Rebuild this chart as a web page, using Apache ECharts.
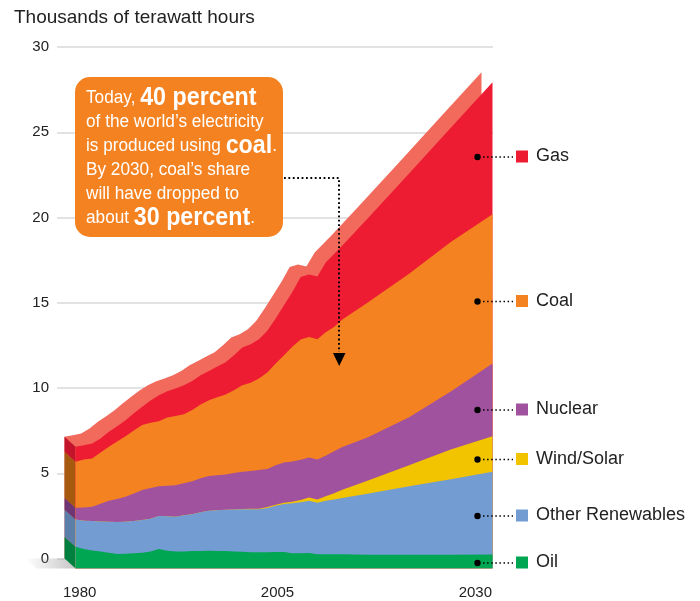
<!DOCTYPE html>
<html><head><meta charset="utf-8">
<script src="https://cdn.jsdelivr.net/npm/echarts@6/dist/echarts.min.js"></script>
<style>html,body{margin:0;padding:0;background:#fff}#c{width:700px;height:601px}</style>
</head><body><div id="c"></div>
<script>
// ---- data (thousands of TWh) ----
const years = [1980,1981,1982,1983,1984,1985,1986,1987,1988,1989,1990,1991,1992,1993,1994,1995,1996,1997,1998,1999,2000,2001,2002,2003,2004,2005,2006,2007,2008,2009,2010,2011,2012,2015,2020,2025,2030];
const oil = [1.28,1.15,1.06,1.00,0.93,0.85,0.86,0.89,0.93,0.99,1.14,1.04,0.99,0.99,1.02,1.02,1.04,1.03,1.02,1.00,0.98,0.96,0.95,0.96,0.97,0.97,0.90,0.90,0.91,0.84,0.83,0.83,0.83,0.81,0.81,0.81,0.82];
const otherRenewables = [1.60,1.65,1.72,1.76,1.81,1.87,1.88,1.89,1.91,1.93,1.94,2.02,2.05,2.13,2.16,2.28,2.35,2.39,2.43,2.46,2.49,2.51,2.52,2.59,2.71,2.81,2.92,2.98,3.06,3.02,3.14,3.22,3.31,3.58,4.01,4.43,4.85];
const windSolar = [0,0,0,0,0,0,0,0,0,0,0,0,0,0,0,0,0,0,0,0,0.02,0.03,0.04,0.06,0.06,0.08,0.10,0.14,0.20,0.19,0.27,0.37,0.48,0.76,1.24,1.74,2.09];
const nuclear = [0.68,0.78,0.84,1.04,1.23,1.36,1.47,1.62,1.76,1.80,1.75,1.80,1.85,1.88,1.94,2.00,2.03,2.05,2.07,2.14,2.18,2.22,2.26,2.22,2.32,2.36,2.36,2.36,2.34,2.35,2.38,2.45,2.50,2.54,2.81,3.40,4.26];
const coal = [2.70,2.82,2.83,3.00,3.17,3.37,3.55,3.70,3.81,3.83,3.81,4.00,4.06,4.05,4.18,4.32,4.45,4.58,4.68,4.85,5.08,5.17,5.38,5.67,5.96,6.29,6.72,7.05,7.07,7.05,7.23,7.30,7.48,7.90,8.42,8.77,8.75];
const gas = [0.88,0.83,0.88,0.83,0.88,0.90,0.94,1.00,1.07,1.30,1.52,1.54,1.60,1.70,1.70,1.72,1.72,1.80,1.90,2.06,2.21,2.26,2.30,2.45,2.64,2.93,3.22,3.67,3.67,3.67,4.10,4.28,4.35,4.93,5.88,6.70,7.75];
const seriesNames = ['Oil','Other Renewables','Wind/Solar','Nuclear','Coal','Gas'];
const xTickLabels = [1980, 2005, 2030];
const yTickLabels = [0, 5, 10, 15, 20, 25, 30];
const titleText = 'Thousands of terawatt hours';

// ---- styling ----
const layers = [oil, otherRenewables, windSolar, nuclear, coal, gas];
const frontColors = ['#00A651','#739CD2','#F2C400','#A0529F','#F48221','#ED1C33'];
const sideColors = ['#00803F','#5B7FA8','#C29C00','#6E3672','#A65A10','#C4142C'];
const topColor = '#F26A5C';
const DX = 11, DY = 10;
const FONT = '"Liberation Sans", Arial, Helvetica, sans-serif';

// cumulative tops (stack computed from the arrays)
const cumulative = [];
layers.forEach((arr, k) => {
  cumulative.push(arr.map((v, i) => v + (k ? cumulative[k - 1][i] : 0)));
});
const total = cumulative[cumulative.length - 1];

// side face items: [year, lower, upper, layerIndex]
const sideData = [[years[0], 0, 0, -1]];
layers.forEach((arr, k) => { sideData.push([years[0], k ? cumulative[k - 1][0] : 0, cumulative[k][0], k]); });

const chart = echarts.init(document.getElementById('c'), null, {renderer: 'canvas'});

const legendRows = [['Gas',157],['Coal',301.5],['Nuclear',410],['Wind/Solar',459.5],['Other Renewables',516],['Oil',563]];

const graphics = [];
legendRows.forEach(([n, y]) => {
  graphics.push({type:'circle', shape:{cx:477.5, cy:y, r:3.2}, style:{fill:'#000'}, z:100});
  graphics.push({type:'line', shape:{x1:483, y1:y, x2:513, y2:y}, style:{stroke:'#000', lineWidth:1.5, lineDash:[1.5,2.6]}, z:100});
});
graphics.push({type:'rect', shape:{x:75, y:77, width:208, height:160, r:15}, style:{fill:'#F48221'}, z:100});
graphics.push({type:'text', x:86, y:86, scaleX:0.93, z:101, style:{
  text:'{n|Today, }{b|40 percent}\n{n|of the world\u2019s electricity}\n{n|is produced using }{b|coal}{n|.}\n{n|By 2030, coal\u2019s share}\n{n|will have dropped to}\n{n|about }{b|30 percent}{n|.}',
  verticalAlign:'top', align:'left', fill:'#ffffff',
  rich:{
    n:{fontFamily:FONT, fontSize:18.5, fill:'#ffffff', lineHeight:24},
    b:{fontFamily:FONT, fontSize:25, fontWeight:'bold', fill:'#ffffff', lineHeight:24}
  }
}});
graphics.push({type:'polyline', shape:{points:[[284,178],[339,178],[339,352]]}, style:{stroke:'#000', lineWidth:2, lineDash:[1.8,2.6], fill:null}, z:100});
graphics.push({type:'polygon', shape:{points:[[333,353],[345.5,353],[339.2,366]]}, style:{fill:'#000'}, z:100});

// draw top layer first so lower layers paint over it
const frontSeries = layers.map((arr, k) => ({
  name: seriesNames[k], type:'line', xAxisIndex:2, yAxisIndex:2,
  data: years.map((y, i) => [y, cumulative[k][i]]),
  symbol:'none', showSymbol:false, lineStyle:{width:0}, color: frontColors[k],
  itemStyle:{color: frontColors[k]},
  areaStyle:{color: frontColors[k], opacity:1, origin:'start'}, silent:true, z:3
})).reverse();

chart.setOption({
  animation:false,
  title:{text:titleText, left:14, top:8, textStyle:{fontFamily:FONT, fontSize:19, fontWeight:'normal', color:'#222'}, padding:0},
  grid:[
    {left:57, right:207, top:47, bottom:42.5},
    {left:64.5, right:218.5, top:47, bottom:42.5},
    {left:75.5, right:207.5, top:57, bottom:32.5},
    {left:63, right:208, top:47, bottom:32}
  ],
  xAxis:[
    {gridIndex:0, type:'value', min:0, max:1, show:false},
    {gridIndex:1, type:'value', min:1980, max:2030, show:false},
    {gridIndex:2, type:'value', min:1980, max:2030, show:false},
    {gridIndex:3, type:'value', min:1980, max:2030, interval:25,
     axisLine:{show:false}, axisTick:{show:false}, splitLine:{show:false},
     axisLabel:{fontFamily:FONT, fontSize:15, color:'#222', margin:16, showMinLabel:true, showMaxLabel:true,
       alignMinLabel:'left', alignMaxLabel:'right',
       formatter: v => xTickLabels.indexOf(v) >= 0 ? String(v) : ''}}
  ],
  yAxis:[
    {gridIndex:0, type:'value', min:0, max:30, interval:5,
     axisLine:{show:false}, axisTick:{show:false},
     axisLabel:{fontFamily:FONT, fontSize:15, color:'#222', margin:8,
       formatter: v => yTickLabels.indexOf(v) >= 0 ? String(v) : ''},
     splitLine:{lineStyle:{color:'#d9d9d9', width:1.5}}},
    {gridIndex:1, type:'value', min:0, max:30, show:false},
    {gridIndex:2, type:'value', min:0, max:30, show:false},
    {gridIndex:3, type:'value', min:0, max:30, show:false}
  ],
  legend: legendRows.map(([n, y]) => ({
    data:[n], left:516, top:y-9.5, orient:'vertical', icon:'rect', itemWidth:12, itemHeight:12,
    padding:0, selectedMode:false, itemStyle:{borderWidth:0},
    textStyle:{fontFamily:FONT, fontSize:18, color:'#222', padding:[0,0,0,3]}
  })),
  graphic: graphics,
  series: [
    {name:'top', type:'line', xAxisIndex:1, yAxisIndex:1, data: years.map((y, i) => [y, total[i]]),
     symbol:'none', lineStyle:{width:0}, areaStyle:{color:topColor, opacity:1, origin:'start'}, silent:true, z:2},
    {name:'side', type:'custom', xAxisIndex:1, yAxisIndex:1, data: sideData, clip:false, silent:true, z:2,
     encode:{x:0, y:[1,2]},
     renderItem: (params, api) => {
       const k = api.value(3);
       const lo = api.coord([api.value(0), api.value(1)]);
       const hi = api.coord([api.value(0), api.value(2)]);
       if (k < 0) {
         return {type:'polygon', shape:{points:[[lo[0]-40, lo[1]], lo, [lo[0]+DX, lo[1]+DY], [lo[0]-28, lo[1]+DY]]},
           style:{fill: new echarts.graphic.LinearGradient(0,0,1,0,[{offset:0,color:'rgba(160,160,160,0)'},{offset:1,color:'rgba(150,150,150,0.55)'}])}};
       }
       return {type:'polygon', shape:{points:[lo, hi, [hi[0]+DX, hi[1]+DY], [lo[0]+DX, lo[1]+DY]]}, style:{fill: sideColors[k]}};
     }}
  ].concat(frontSeries)
});
</script></body></html>
